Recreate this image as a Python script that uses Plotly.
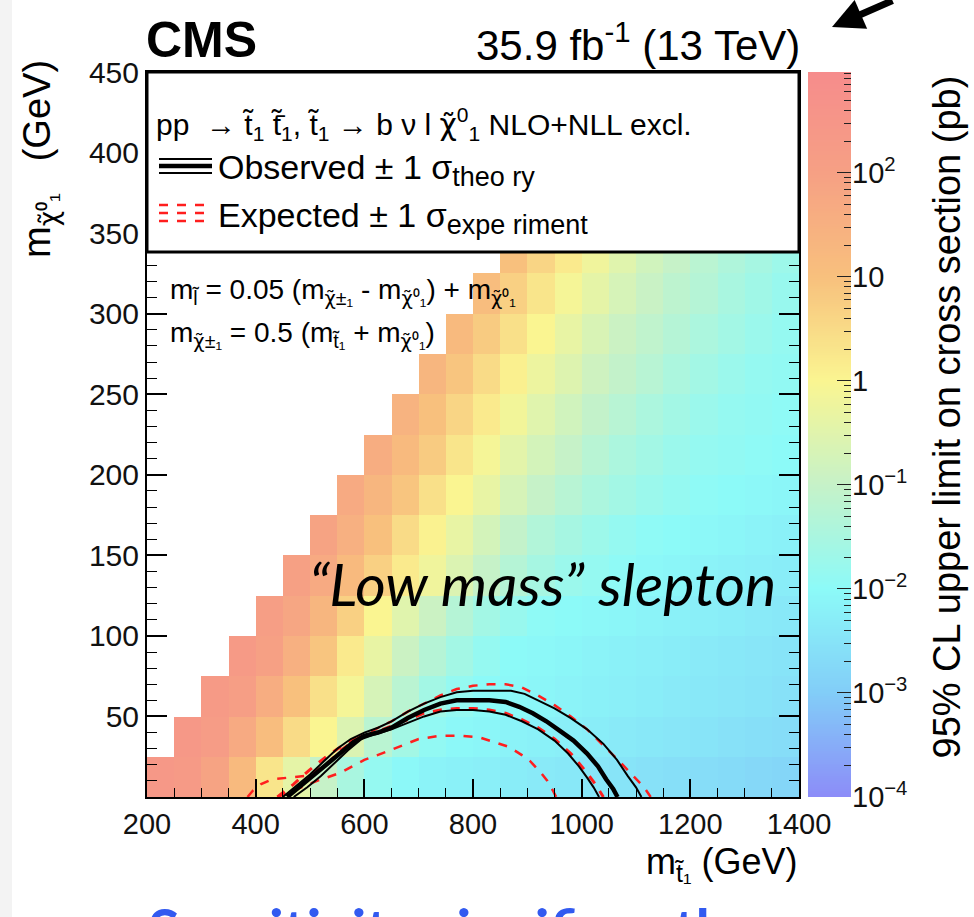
import numpy as np
import plotly.graph_objects as go

# ---------------- data ----------------
# stop-mass bin lower edges (GeV), 50 GeV wide; LSP-mass bin lower edges (GeV), 25 GeV wide
mstop_edges = [200, 250, 300, 350, 400, 450, 500, 550, 600, 650, 700, 750, 800, 850,
               900, 950, 1000, 1050, 1100, 1150, 1200, 1250, 1300, 1350]
mlsp_edges = [0, 25, 50, 75, 100, 125, 150, 175, 200, 225, 250, 275, 300, 325]

# log10 of the 95% CL upper limit (pb), one list per LSP-mass row, starting at the diagonal
row_0 = [2.4, 2.3, 1.9, 1.2, 0.3, -0.4, -1.0, -1.5, -1.85, -2.05, -2.15, -2.2, -2.25, -2.3,
         -2.35, -2.4, -2.45, -2.5, -2.55, -2.6, -2.65, -2.7, -2.75, -2.8]
row_1 = [2.4, 2.2, 1.7, 1.1, 0.5, 0.0, -0.6, -1.2, -1.6, -1.9, -2.05, -2.1, -2.15, -2.2,
         -2.25, -2.3, -2.35, -2.4, -2.45, -2.5, -2.55, -2.6, -2.65]
row_2 = [2.3, 2.1, 1.6, 1.0, 0.4, -0.1, -0.7, -1.2, -1.6, -1.85, -2.0, -2.05, -2.1, -2.15,
         -2.2, -2.25, -2.3, -2.35, -2.4, -2.45, -2.5, -2.55]
row_3 = [2.3, 2.0, 1.5, 0.9, 0.2, -0.35, -0.9, -1.3, -1.6, -1.85, -2.0, -2.05, -2.1, -2.15,
         -2.2, -2.25, -2.3, -2.35, -2.4, -2.45, -2.5]
row_4 = [2.1, 1.8, 1.3, 0.7, 0.0, -0.5, -0.9, -1.3, -1.6, -1.8, -1.95, -2.0, -2.05, -2.1,
         -2.15, -2.2, -2.25, -2.3, -2.35, -2.4]
row_5 = [2.0, 1.7, 1.2, 0.7, 0.2, -0.2, -0.6, -1.0, -1.3, -1.55, -1.75, -1.85, -1.95, -2.05,
         -2.1, -2.15, -2.2, -2.25, -2.3]
row_6 = [1.9, 1.5, 1.0, 0.5, 0.05, -0.35, -0.75, -1.05, -1.35, -1.55, -1.7, -1.85, -1.95,
         -2.0, -2.05, -2.1, -2.15, -2.2]
row_7 = [1.7, 1.3, 0.9, 0.4, 0.0, -0.35, -0.7, -1.0, -1.25, -1.45, -1.6, -1.75, -1.85, -1.95,
         -2.0, -2.05, -2.1]
row_8 = [1.6, 1.2, 0.8, 0.3, -0.1, -0.45, -0.75, -1.0, -1.25, -1.45, -1.6, -1.75, -1.85, -1.9,
         -1.95, -2.0]
row_9 = [1.4, 1.0, 0.6, 0.2, -0.15, -0.5, -0.8, -1.05, -1.25, -1.45, -1.6, -1.75, -1.85,
         -1.9, -1.95]
row_10 = [1.3, 0.9, 0.5, 0.1, -0.25, -0.55, -0.85, -1.05, -1.25, -1.45, -1.6, -1.75, -1.85,
          -1.9]
row_11 = [1.2, 0.8, 0.4, 0.0, -0.35, -0.65, -0.9, -1.1, -1.3, -1.45, -1.6, -1.75, -1.85]
row_12 = [1.1, 0.7, 0.3, -0.1, -0.4, -0.7, -0.95, -1.15, -1.3, -1.5, -1.65, -1.8]
row_13 = [1.0, 0.6, 0.2, -0.2, -0.5, -0.8, -1.0, -1.2, -1.4, -1.55, -1.7]
limit_rows = [row_0, row_1, row_2, row_3, row_4, row_5, row_6, row_7,
              row_8, row_9, row_10, row_11, row_12, row_13]

# exclusion contours (m_stop, m_LSP) in GeV
obs_x = [458, 480, 505, 530, 555, 580, 600, 625, 650, 680, 710, 740, 770, 800, 830, 860,
         885, 910, 935, 960, 985, 1010, 1030, 1045, 1058, 1066]
obs_y = [0, 6, 13, 20, 27, 34, 38, 40, 43, 49, 54, 58, 60, 60, 60, 59, 56, 52, 47, 41, 35,
         27, 19, 11, 5, 0]
obs_up_x = [450, 475, 500, 525, 550, 575, 600, 625, 650, 680, 710, 740, 770, 800, 830, 870,
            895, 920, 950, 980, 1010, 1040, 1065, 1085, 1100, 1110]
obs_up_y = [0, 7, 14, 22, 30, 36, 40, 43, 47, 53, 58, 62, 65, 66, 66, 66, 64, 60, 55, 49,
            42, 33, 23, 13, 6, 0]
obs_dn_x = [470, 495, 520, 545, 570, 595, 620, 650, 680, 710, 740, 770, 800, 830, 860, 890,
            920, 950, 975, 995, 1010, 1022, 1032]
obs_dn_y = [0, 6, 13, 21, 29, 36, 39, 42, 46, 50, 53, 54, 54, 53, 51, 47, 42, 35, 27, 19,
            12, 6, 0]
exp_x = [440, 470, 500, 530, 560, 590, 620, 650, 680, 710, 740, 770, 800, 830, 860, 890,
         920, 950, 980, 1005, 1025, 1040]
exp_y = [0, 8, 17, 25, 32, 37, 40, 44, 48, 52, 54, 55, 55, 54, 52, 48, 43, 36, 27, 17, 8, 0]
exp_up_x = [385, 395, 410, 430, 460, 490, 510, 535, 560, 590, 620, 650, 680, 710, 740, 770,
            800, 830, 860, 890, 920, 950, 980, 1010, 1040, 1070, 1095, 1115, 1127]
exp_up_y = [0, 4, 8, 11, 12, 13, 16, 22, 30, 37, 42, 47, 53, 58, 63, 67, 69, 70, 70, 68, 63,
            57, 50, 42, 32, 22, 13, 6, 0]
exp_dn_x = [440, 470, 513, 556, 600, 640, 670, 700, 740, 780, 812, 840, 867, 890, 906, 925,
            937, 947, 953]
exp_dn_y = [0, 4, 10, 15, 23, 28, 32, 36, 38, 38, 37, 34, 31, 26, 22, 15, 10, 4, 0]

# axis labels
y_tickvals = [50, 100, 150, 200, 250, 300, 350, 400, 450]
z_decades = [-4, -3, -2, -1, 0, 1, 2]
z_labels = ["10<sup>\u22124</sup>", "10<sup>\u22123</sup>", "10<sup>\u22122</sup>",
            "10<sup>\u22121</sup>", "1", "10", "10<sup>2</sup>"]
Z_MIN, Z_MAX = -4.0, 2.97

# ---------------- geometry helpers ----------------
W_FIG, H_FIG = 974, 917
M_L, M_R, M_T, M_B = 147, 60, 72, 120
PW = W_FIG - M_L - M_R
PH = H_FIG - M_T - M_B


def px_x(p):
    return (p - M_L) / PW


def px_y(p):
    return (H_FIG - M_B - p) / PH


FONT = "Liberation Sans"
RED = "rgb(255,30,30)"
# chi with tilde, set in a font that places combining marks on Greek letters
CHI = '<span style="font-family:DejaVu Sans">\u03c7\u0303</span>'

# palette
pal_vals = [-4, -3, -2, -1, 0, 1, 2, 2.97]
pal_cols = ["rgb(140,140,248)", "rgb(130,205,248)", "rgb(140,250,248)", "rgb(198,242,200)",
            "rgb(250,245,145)", "rgb(248,192,125)", "rgb(246,160,132)", "rgb(246,140,140)"]
colorscale = [[(v - Z_MIN) / (Z_MAX - Z_MIN), c] for v, c in zip(pal_vals, pal_cols)]

# ---------------- heatmap grid ----------------
x_centers = [e + 25 for e in mstop_edges]
y_centers = [e + 12.5 for e in mlsp_edges]
z = []
for r, row in enumerate(limit_rows):
    z.append([None] * (len(mstop_edges) - len(row)) + row)

fig = go.Figure()
fig.add_trace(go.Heatmap(x=x_centers, y=y_centers, z=z, colorscale=colorscale,
                         zmin=Z_MIN, zmax=Z_MAX, showscale=False, hoverinfo="skip"))

# contours
fig.add_trace(go.Scatter(x=exp_dn_x, y=exp_dn_y, mode="lines",
                         line=dict(color=RED, width=2.5, dash="dash"), showlegend=False))
fig.add_trace(go.Scatter(x=exp_up_x, y=exp_up_y, mode="lines",
                         line=dict(color=RED, width=2.5, dash="dash"), showlegend=False))
fig.add_trace(go.Scatter(x=exp_x, y=exp_y, mode="lines",
                         line=dict(color=RED, width=3, dash="dash"), showlegend=False))
fig.add_trace(go.Scatter(x=obs_up_x, y=obs_up_y, mode="lines",
                         line=dict(color="black", width=2), showlegend=False))
fig.add_trace(go.Scatter(x=obs_dn_x, y=obs_dn_y, mode="lines",
                         line=dict(color="black", width=2), showlegend=False))
fig.add_trace(go.Scatter(x=obs_x, y=obs_y, mode="lines",
                         line=dict(color="black", width=4.5), showlegend=False))

# colour bar as its own strip
bar_z = np.linspace(Z_MIN, Z_MAX, 400)
fig.add_trace(go.Heatmap(x=[0], y=bar_z, z=[[v] for v in bar_z], colorscale=colorscale,
                         zmin=Z_MIN, zmax=Z_MAX, showscale=False, hoverinfo="skip",
                         xaxis="x2", yaxis="y2"))

minor_vals = [np.log10(k) + d for d in range(-4, 3) for k in range(2, 10)
              if np.log10(k) + d < Z_MAX]

fig.update_layout(
    width=W_FIG, height=H_FIG,
    margin=dict(l=M_L, r=M_R, t=M_T, b=M_B),
    paper_bgcolor="white", plot_bgcolor="white",
    font=dict(family=FONT, color="black", size=24),
    xaxis=dict(domain=[0, px_x(799)], range=[200, 1400], showgrid=False, zeroline=False,
               ticks="inside", ticklen=18, tickwidth=1.5, tickcolor="black",
               tick0=200, dtick=200, showline=True, linewidth=2, linecolor="black",
               mirror="ticks", tickfont=dict(size=29, family=FONT, color="#111"),
               minor=dict(ticks="inside", ticklen=9, tickwidth=1.2, dtick=50,
                          tickcolor="black", showgrid=False)),
    yaxis=dict(domain=[0, 1], range=[0, 450], showgrid=False, zeroline=False,
               ticks="inside", ticklen=20, tickwidth=1.5, tickcolor="black",
               tickmode="array", tickvals=y_tickvals, showline=True, linewidth=2,
               linecolor="black", mirror="ticks",
               tickfont=dict(size=30, family=FONT, color="#111"),
               minor=dict(ticks="inside", ticklen=10, tickwidth=1.2, tick0=0, dtick=10,
                          tickcolor="black", showgrid=False)),
    xaxis2=dict(domain=[px_x(808), px_x(851)], range=[-0.5, 0.5], anchor="y2",
                visible=False),
    yaxis2=dict(domain=[0, 1], range=[Z_MIN, Z_MAX], anchor="x2", side="right",
                showgrid=False, zeroline=False, showline=False,
                ticks="inside", ticklen=14, tickwidth=1.3, tickcolor="#222",
                tickmode="array", tickvals=z_decades, ticktext=z_labels,
                tickfont=dict(size=29, family=FONT, color="#111"),
                minor=dict(ticks="inside", ticklen=7, tickwidth=1, tickcolor="#222",
                           tickmode="array", tickvals=minor_vals, showgrid=False)),
)

shapes = []
# slide margin strip
shapes.append(dict(type="rect", xref="paper", yref="paper", x0=px_x(0), x1=px_x(12),
                   y0=px_y(917), y1=px_y(0), fillcolor="#f3f3f3", line=dict(width=0),
                   layer="below"))
# legend box
shapes.append(dict(type="rect", xref="paper", yref="paper", x0=0, x1=px_x(799),
                   y0=px_y(252), y1=1, fillcolor="white", line=dict(color="black", width=3),
                   layer="above"))
# legend symbols: observed (thick + two thin)
for yy, w in [(159, 2), (166, 4.5), (173, 2)]:
    shapes.append(dict(type="line", xref="paper", yref="paper", x0=px_x(159), x1=px_x(212),
                       y0=px_y(yy), y1=px_y(yy), line=dict(color="black", width=w),
                       layer="above"))
# legend symbols: expected (three red dashed)
for yy in [205, 213, 221]:
    shapes.append(dict(type="line", xref="paper", yref="paper", x0=px_x(159), x1=px_x(212),
                       y0=px_y(yy), y1=px_y(yy),
                       line=dict(color=RED, width=2.5, dash="dash"),
                       layer="above"))
fig.update_layout(shapes=shapes)

ann = []


def add_text(text, xp, yp, size, xanchor="left", yanchor="middle", family=FONT,
             color="black", angle=0):
    ann.append(dict(text=text, x=px_x(xp), y=px_y(yp), xref="paper", yref="paper",
                    xanchor=xanchor, yanchor=yanchor, showarrow=False, textangle=angle,
                    font=dict(size=size, family=family, color=color)))


SUB_BIG = '<sub><span style="font-size:27px">{}</span></sub>'

add_text("<b>CMS</b>", 144, 40, 50)
add_text("35.9 fb<sup>-1</sup> (13 TeV)", 802, 42, 42, xanchor="right")
add_text("pp  \u2192 t\u0303<sub>1</sub> t\u0303\u0304<sub>1</sub>, t\u0303<sub>1</sub> \u2192 b \u03bd l "
         + CHI + "<sup>0</sup><sub>1</sub> NLO+NLL excl.", 154, 124, 30)
add_text("Observed \u00b1 1 \u03c3" + SUB_BIG.format("theo ry"), 216, 170, 34)
add_text("Expected \u00b1 1 \u03c3" + SUB_BIG.format("expe riment"), 216, 218, 34)
add_text("m<sub>l\u0303</sub> = 0.05 (m<sub>" + CHI + "\u00b1\u2081</sub> - m<sub>" + CHI
         + "\u2070\u2081</sub>) + m<sub>" + CHI + "\u2070\u2081</sub>", 168, 292, 28)
add_text("m<sub>" + CHI + "\u00b1\u2081</sub> = 0.5 (m<sub>t\u0303\u2081</sub> + m<sub>" + CHI
         + "\u2070\u2081</sub>)", 168, 335, 28)
add_text("<i>\u201cLow mass\u201d slepton</i>", 542, 583, 59, xanchor="center", family="Lato")
# axis titles
add_text("m<sub>t\u0303\u2081</sub> (GeV)", 800, 864, 36, xanchor="right")
ann.append(dict(text="m<sub>" + CHI + "\u2070\u2081</sub>   (GeV)", x=px_x(40), y=px_y(58),
                xref="paper", yref="paper", xanchor="center", yanchor="top",
                showarrow=False, textangle=-90, font=dict(size=38, family=FONT)))
ann.append(dict(text="95% CL upper limit on cross section (pb)", x=px_x(946), y=px_y(74),
                xref="paper", yref="paper", xanchor="center", yanchor="top",
                showarrow=False, textangle=-90, font=dict(size=38, family=FONT)))
# slide caption below the figure
add_text("<b>Sensitivity significantly</b>", 146, 928, 58, yanchor="middle", family="Lato",
         color="rgb(50,90,240)")
# pointer arrow
ann.append(dict(text="", x=px_x(832), y=px_y(27), ax=62, ay=-30, xref="paper", yref="paper",
                showarrow=True, arrowhead=2, arrowsize=0.9, arrowwidth=7, arrowcolor="black"))
fig.update_layout(annotations=ann)

fig.write_html("out.html")
